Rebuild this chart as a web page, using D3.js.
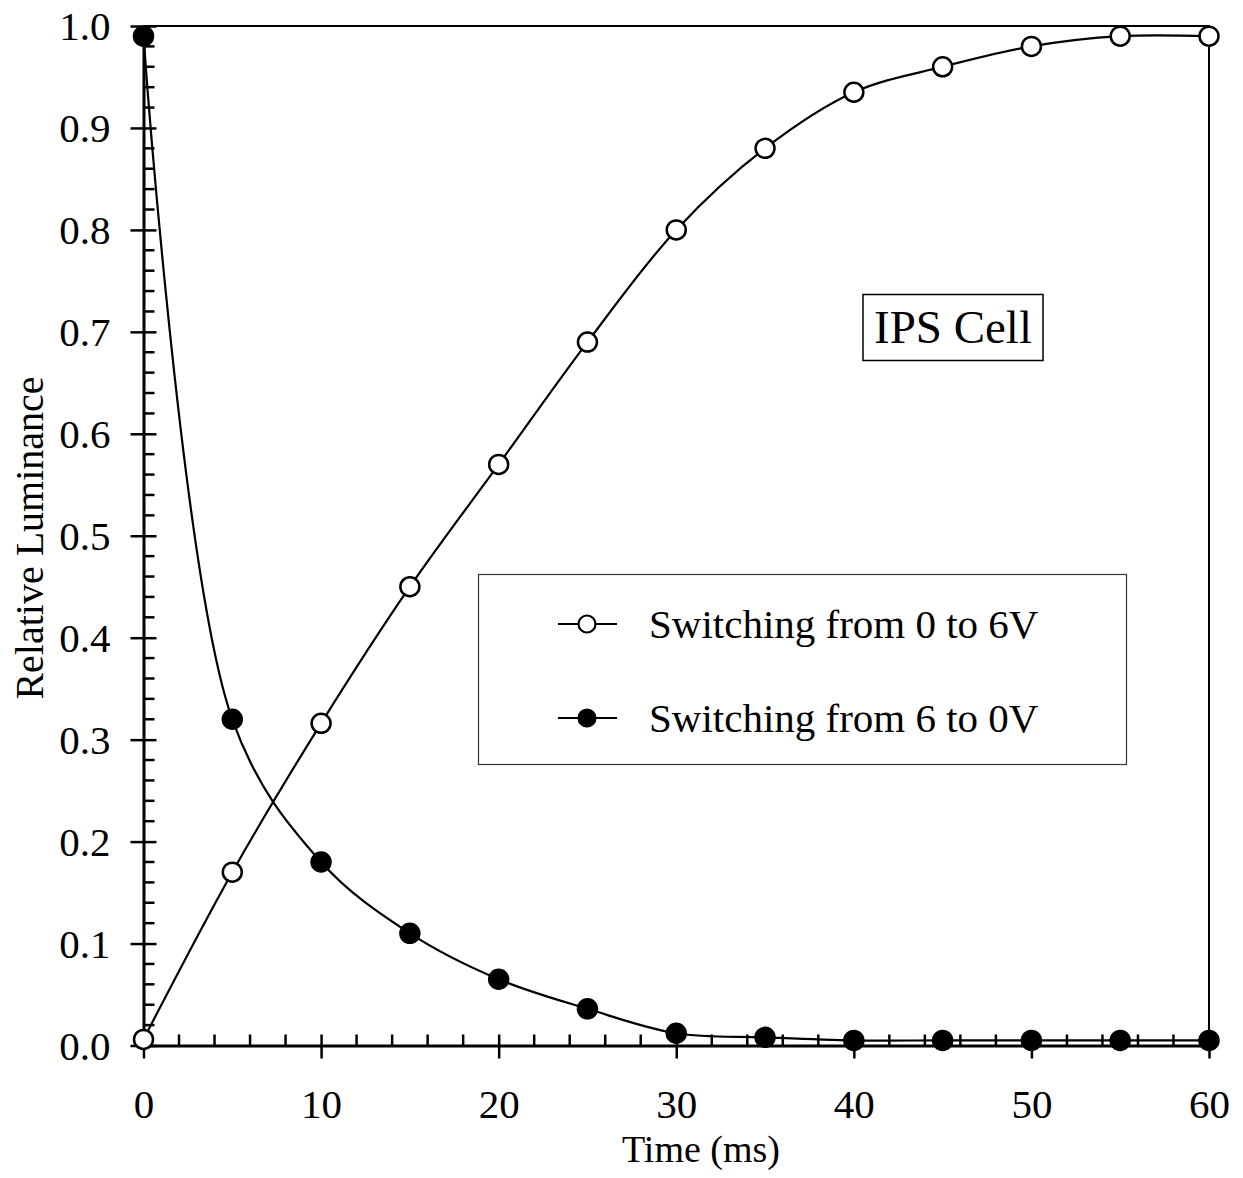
<!DOCTYPE html>
<html>
<head>
<meta charset="utf-8">
<script src="https://cdn.jsdelivr.net/npm/d3@7"></script>
<style>
    body { margin: 0; background: #fff; }
    svg text { font-family: "Liberation Serif", "DejaVu Serif", serif; fill: #000; }
</style>
</head>
<body>
<div id="draw-area"></div>
<script>
// data
var timeMs = [0, 5, 10, 15, 20, 25, 30, 35, 40, 45, 50, 55, 60];
var riseValues = [0.006, 0.17, 0.316, 0.45, 0.57, 0.69, 0.80, 0.88, 0.935, 0.96, 0.98, 0.99, 0.99];   // 0 -> 6V
var decayValues = [0.99, 0.32, 0.18, 0.11, 0.065, 0.036, 0.012, 0.008, 0.005, 0.005, 0.005, 0.005, 0.005]; // 6 -> 0V
var xTicks = [0, 10, 20, 30, 40, 50, 60];
var yTicks = [0, 0.1, 0.2, 0.3, 0.4, 0.5, 0.6, 0.7, 0.8, 0.9, 1.0];
var seriesNames = ['Switching from 0 to 6V', 'Switching from 6 to 0V'];
var cellLabel = 'IPS Cell';

(function () {
    let width = 1243, height = 1178;
    let margin = { top: 26, right: 34, bottom: 132.5, left: 143.5 };
    let w = width - margin.left - margin.right,
        h = height - margin.top - margin.bottom;

    let svg = d3.select('#draw-area').append('svg')
        .attr('width', width)
        .attr('height', height);
    let g = svg.append('g').attr('transform', `translate(${margin.left},${margin.top})`);

    let x = d3.scaleLinear().domain([0, 60]).range([0, w]);
    let y = d3.scaleLinear().domain([0, 1]).range([h, 0]);

    // frame top / right
    g.append('path')
        .attr('d', `M0,0H${w}V${h}`)
        .attr('fill', 'none').attr('stroke', '#000').attr('stroke-width', 2);

    // minor ticks (inside)
    let xMinor = d3.range(0, 61, 2).filter(v => v % 10 != 0);
    g.selectAll('.xminor').data(xMinor).enter().append('line')
        .attr('x1', d => x(d)).attr('x2', d => x(d))
        .attr('y1', h).attr('y2', h - 11)
        .attr('stroke', '#000').attr('stroke-width', 2.5);
    let yMinor = d3.range(0, 50).map(i => i * 0.02).filter((v, i) => i % 5 != 0);
    g.selectAll('.yminor').data(yMinor).enter().append('line')
        .attr('x1', 0).attr('x2', 11)
        .attr('y1', d => y(d)).attr('y2', d => y(d))
        .attr('stroke', '#000').attr('stroke-width', 2.5);

    //X軸
    let xAxis = g.append('g').attr('transform', `translate(0,${h})`)
        .call(d3.axisBottom(x).tickValues(xTicks).tickFormat(d3.format('d')).tickSizeInner(13).tickSizeOuter(0).tickPadding(59));
    xAxis.select('.domain').attr('stroke-width', 3);
    xAxis.selectAll('.tick line').attr('y1', -11).attr('stroke-width', 2.5);
    xAxis.selectAll('text').attr('font-size', 41).attr('dy', 0);

    //Y軸
    let yAxis = g.append('g')
        .call(d3.axisLeft(y).tickValues(yTicks).tickFormat(d3.format('.1f')).tickSizeInner(13).tickSizeOuter(0).tickPadding(20));
    yAxis.select('.domain').attr('stroke-width', 3);
    yAxis.selectAll('.tick line').attr('x1', 13).attr('stroke-width', 2.5);
    yAxis.selectAll('text').attr('font-size', 41).attr('dy', '0.34em');

    // axis titles
    svg.append('text')
        .attr('x', 701).attr('y', 1162)
        .attr('text-anchor', 'middle').attr('font-size', 38)
        .text('Time (ms)');
    svg.append('text')
        .attr('transform', 'translate(43,538) rotate(-90)')
        .attr('text-anchor', 'middle').attr('font-size', 40)
        .text('Relative Luminance');

    let line = d3.line()
        .x(d => x(d.t)).y(d => y(d.v))
        .curve(d3.curveCatmullRom.alpha(0.5));

    let series = [
        { name: seriesNames[0], fill: '#fff', values: timeMs.map((t, i) => ({ t: t, v: riseValues[i] })) },
        { name: seriesNames[1], fill: '#000', values: timeMs.map((t, i) => ({ t: t, v: decayValues[i] })) }
    ];

    //曲線
    g.selectAll('.curve').data(series).enter().append('path')
        .attr('d', d => line(d.values))
        .attr('fill', 'none').attr('stroke', '#000').attr('stroke-width', 2.2);

    //點
    series.forEach(s => {
        g.selectAll(null).data(s.values).enter().append('circle')
            .attr('cx', d => x(d.t)).attr('cy', d => y(d.v))
            .attr('r', 9.5)
            .attr('fill', s.fill).attr('stroke', '#000').attr('stroke-width', 2.5);
    });

    // legend
    svg.append('rect')
        .attr('x', 478.5).attr('y', 574.5).attr('width', 648).attr('height', 190)
        .attr('fill', 'none').attr('stroke', '#333').attr('stroke-width', 1.2);
    let legend = svg.selectAll('.legend').data(series).enter().append('g')
        .attr('transform', (d, i) => `translate(0,${624 + i * 94})`);
    legend.append('line')
        .attr('x1', 558).attr('x2', 617).attr('y1', 0).attr('y2', 0)
        .attr('stroke', '#000').attr('stroke-width', 2.2);
    legend.append('circle')
        .attr('cx', 587).attr('cy', 0).attr('r', 8.5)
        .attr('fill', d => d.fill).attr('stroke', '#000').attr('stroke-width', 2.2);
    legend.append('text')
        .attr('x', 649).attr('y', 14)
        .attr('font-size', 41)
        .text(d => d.name);

    // IPS Cell label
    svg.append('rect')
        .attr('x', 863).attr('y', 294.5).attr('width', 180).attr('height', 66)
        .attr('fill', 'none').attr('stroke', '#000').attr('stroke-width', 1.5);
    svg.append('text')
        .attr('x', 953).attr('y', 343)
        .attr('text-anchor', 'middle').attr('font-size', 47)
        .text(cellLabel);
})();
</script>
</body>
</html>
